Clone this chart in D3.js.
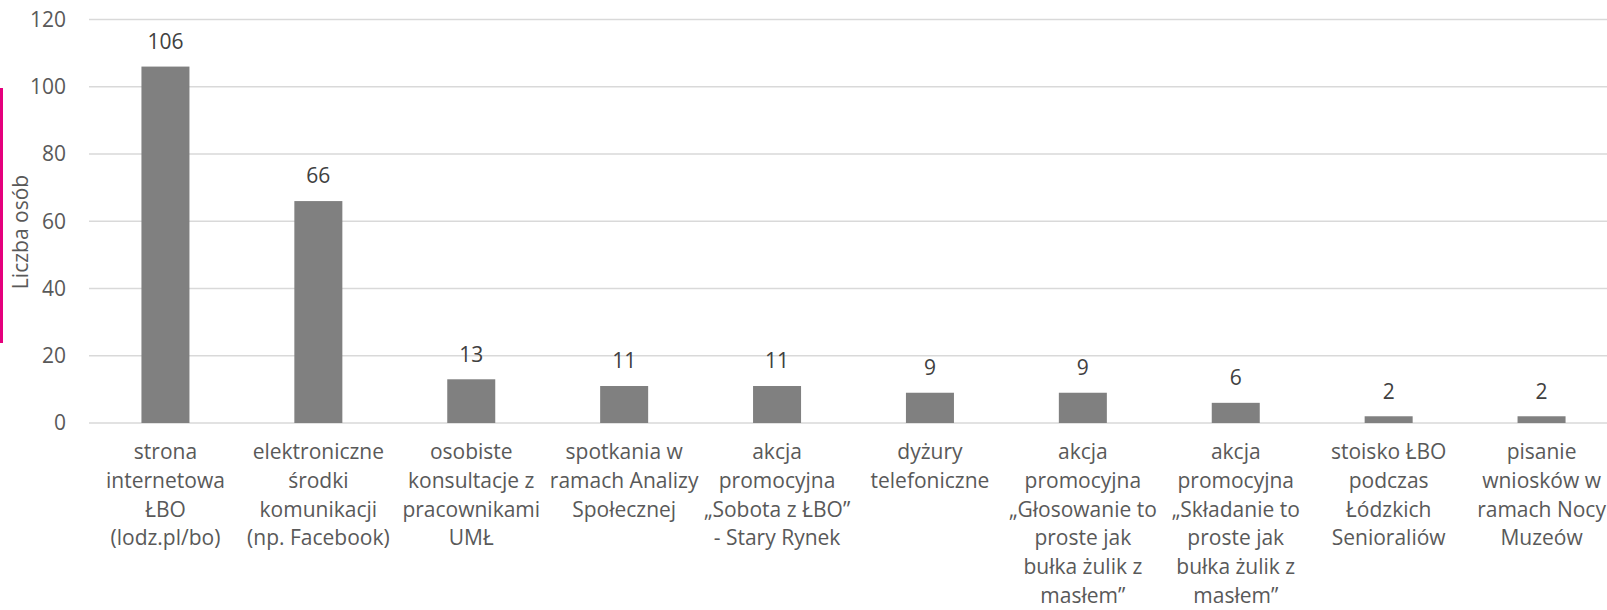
<!DOCTYPE html>
<html>
<head>
<meta charset="utf-8">
<script src="https://cdn.jsdelivr.net/npm/d3@7"></script>
<style>
  body { margin: 0; background: #fff; }
  svg text { font-family: "Open Sans", sans-serif; fill: #595959; }
</style>
</head>
<body>
<div id="chart"></div>
<script>
const categories = [
  ["strona", "internetowa", "ŁBO", "(lodz.pl/bo)"],
  ["elektroniczne", "środki", "komunikacji", "(np. Facebook)"],
  ["osobiste", "konsultacje z", "pracownikami", "UMŁ"],
  ["spotkania w", "ramach Analizy", "Społecznej"],
  ["akcja", "promocyjna", "„Sobota z ŁBO”", "- Stary Rynek"],
  ["dyżury", "telefoniczne"],
  ["akcja", "promocyjna", "„Głosowanie to", "proste jak", "bułka żulik z", "masłem”"],
  ["akcja", "promocyjna", "„Składanie to", "proste jak", "bułka żulik z", "masłem”"],
  ["stoisko ŁBO", "podczas", "Łódzkich", "Senioraliów"],
  ["pisanie", "wniosków w", "ramach Nocy", "Muzeów"]
];
const values = [106, 66, 13, 11, 11, 9, 9, 6, 2, 2];
const yTicks = [0, 20, 40, 60, 80, 100, 120];

const W = 1607, H = 610;
const margin = {top: 19.5, left: 89, bottom: 610 - 423};
const plotW = 1529, plotH = 423 - 19.5;

const svg = d3.select("#chart").append("svg")
    .attr("width", W)
    .attr("height", H);

const g = svg.append("g")
    .attr("transform", "translate(" + margin.left + "," + margin.top + ")");

const x = d3.scaleBand()
    .domain(d3.range(values.length))
    .range([0, plotW])
    .paddingInner(0.686)
    .paddingOuter(0.343);

const y = d3.scaleLinear()
    .domain([0, 120])
    .range([plotH, 0]);

// grid lines
g.selectAll("line.grid").data(yTicks)
    .enter().append("line")
    .attr("class", "grid")
    .attr("x1", 0)
    .attr("x2", plotW)
    .attr("y1", d => y(d))
    .attr("y2", d => y(d))
    .attr("stroke", "#d9d9d9")
    .attr("stroke-width", 1.5);

// y tick labels
g.selectAll("text.ytick").data(yTicks)
    .enter().append("text")
    .attr("class", "ytick")
    .attr("x", -23)
    .attr("y", d => y(d))
    .attr("dy", "0.35em")
    .attr("text-anchor", "end")
    .style("font-size", "21px")
    .text(d => d);

// bars
g.selectAll("rect.bar").data(values)
    .enter().append("rect")
    .attr("class", "bar")
    .attr("x", (d, i) => x(i))
    .attr("width", x.bandwidth())
    .attr("y", d => y(d))
    .attr("height", d => plotH - y(d))
    .attr("fill", "#808080");

// value labels
g.selectAll("text.val").data(values)
    .enter().append("text")
    .attr("class", "val")
    .attr("x", (d, i) => x(i) + x.bandwidth() / 2)
    .attr("y", d => y(d) - 25)
    .attr("dy", "0.35em")
    .attr("text-anchor", "middle")
    .style("font-size", "21px")
    .style("fill", "#404040")
    .text(d => d);

// category labels
const cat = g.selectAll("text.cat").data(categories)
    .enter().append("text")
    .attr("class", "cat")
    .attr("text-anchor", "middle")
    .style("font-size", "21px")
    .attr("transform", (d, i) => "translate(" + (x(i) + x.bandwidth() / 2) + "," + (plotH + 29) + ")");

cat.selectAll("tspan").data(d => d)
    .enter().append("tspan")
    .attr("x", 0)
    .attr("y", (d, i) => i * 28.8)
    .attr("dy", "0.33em")
    .text(d => d);

// axis title
svg.append("text")
    .attr("transform", "translate(21,232) rotate(-90)")
    .attr("text-anchor", "middle")
    .attr("dy", "0.35em")
    .style("font-size", "21px")
    .text("Liczba osób");

// pink marker line on the left
svg.append("rect")
    .attr("x", 0)
    .attr("y", 88)
    .attr("width", 3)
    .attr("height", 255)
    .attr("fill", "#e5007d");
</script>
</body>
</html>
